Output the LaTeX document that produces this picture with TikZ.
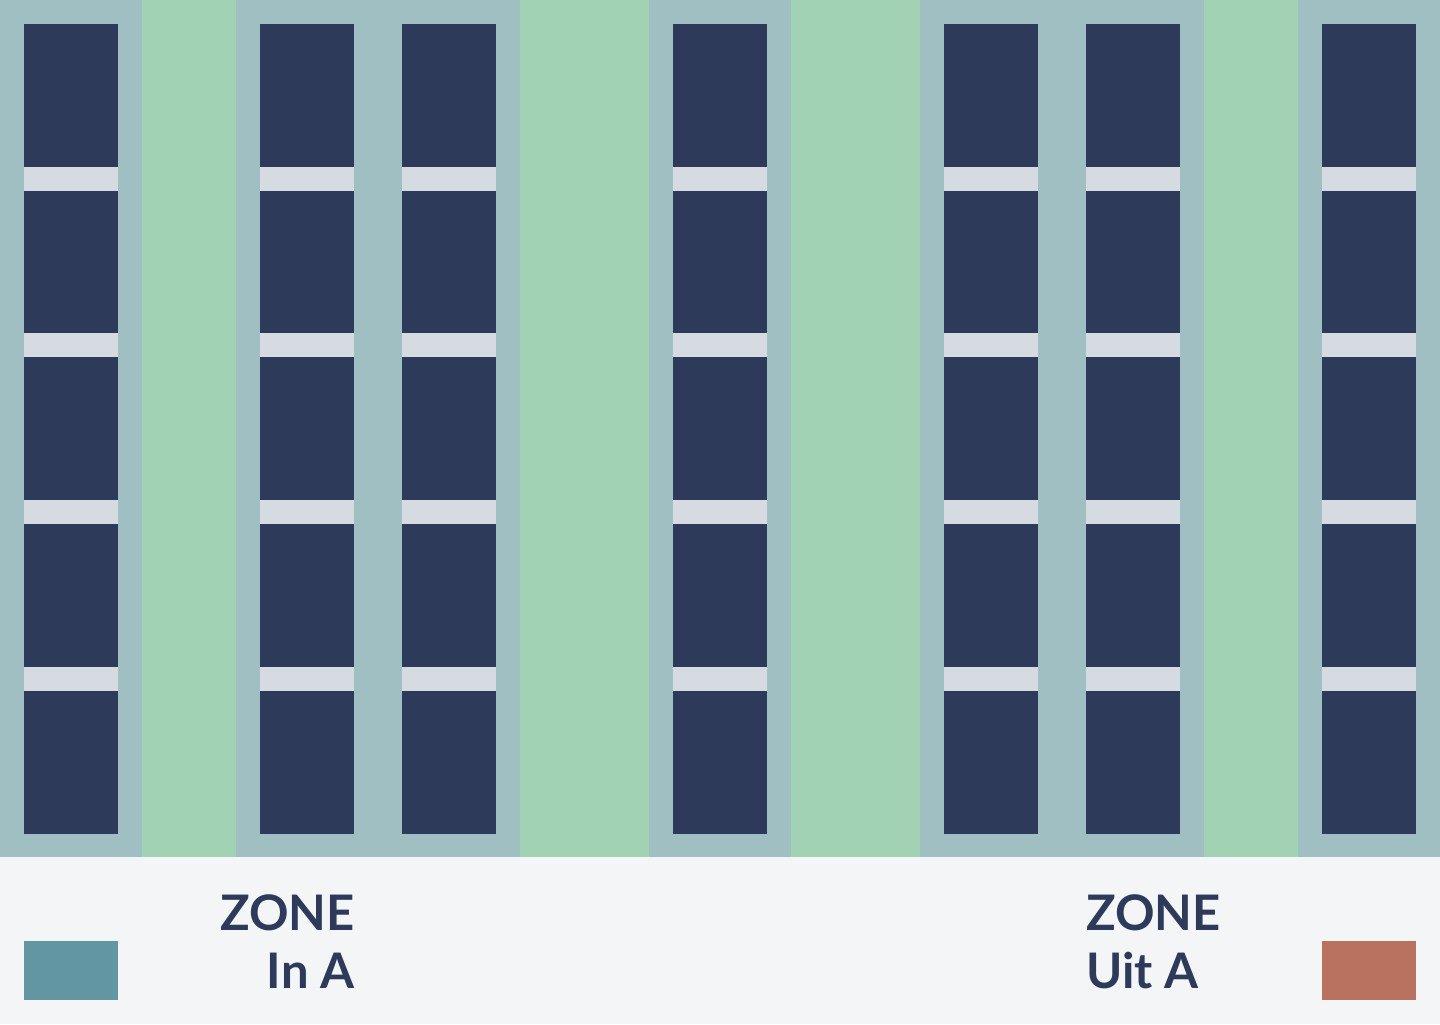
\documentclass[tikz,border=0pt]{standalone}
\usepackage{fontspec}
\setmainfont{Lato}
\definecolor{floor}{HTML}{A0BFC2}
\definecolor{aisle}{HTML}{A1D2B4}
\definecolor{rack}{HTML}{2D3A5A}
\definecolor{beam}{HTML}{D5DBE0}
\definecolor{legendbg}{HTML}{F4F5F7}
\definecolor{zonein}{HTML}{6396A3}
\definecolor{zoneout}{HTML}{B9725F}
\tikzstyle{zonetext}=[inner sep=0pt, text=rack, font=\fontsize{24.5}{29}\selectfont\bfseries]

\begin{document}
\begin{tikzpicture}[x=0.5pt, y=-0.5pt]
				\useasboundingbox (0,0) rectangle (1440,1024);
				% floor and legend strip
				\fill[floor] (0,0) rectangle (1440,857);
				\fill[legendbg] (0,857) rectangle (1440,1024);
				% aisles
				\foreach \a/\b in {142/236, 520/649, 791/920, 1204/1298}
					\fill[aisle] (\a,0) rectangle (\b,857);
				% racks with beams
				\foreach \x in {24, 260, 402, 673, 944, 1086, 1322} {
					\fill[rack] (\x,24) rectangle ++(94,810);
					\foreach \y in {167, 333, 500, 667}
						\fill[beam] (\x,\y) rectangle ++(94,24);
				}
				% legend
				\fill[zonein] (24,941) rectangle (118,1000);
				\fill[zoneout] (1322,941) rectangle (1416,1000);
				\node[zonetext, anchor=base east] (inZone) at (355,930) {ZONE};
				\node[zonetext, anchor=base east] (inName) at (355,988) {In A};
				\node[zonetext, anchor=base west] (outZone) at (1086,930) {ZONE};
				\node[zonetext, anchor=base west] (outName) at (1086,988) {Uit A};
			\end{tikzpicture}
\end{document}
